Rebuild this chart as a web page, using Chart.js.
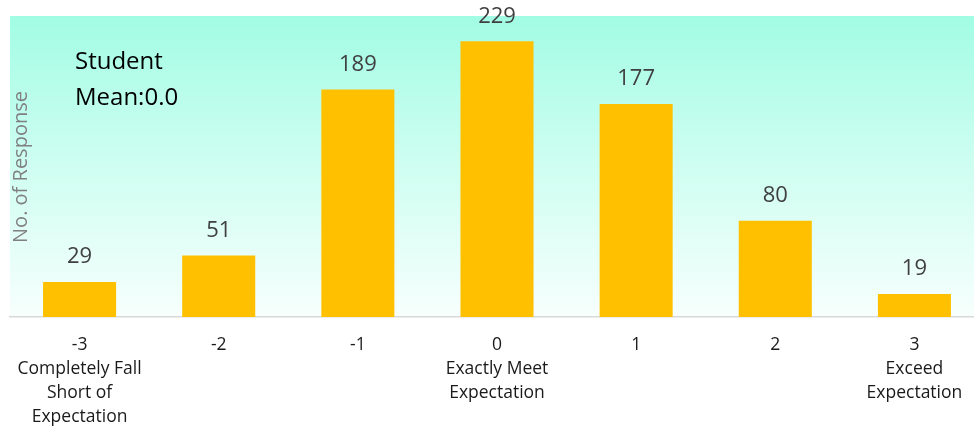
<!DOCTYPE html>
<html>
<head>
<meta charset="utf-8">
<script src="https://cdn.jsdelivr.net/npm/chart.js"></script>
<style>
  html, body { margin: 0; padding: 0; background: #fff; overflow: hidden; }
  /* plot runs a little past the right edge of the window */
  #wrap { width: 984px; height: 429px; }
</style>
</head>
<body>
<div id="wrap"><canvas id="responseChart"></canvas></div>
<script>
// Rating scale and response counts
const scores = ['-3', '-2', '-1', '0', '1', '2', '3'];
const scoreNotes = [['Completely Fall', 'Short of', 'Expectation'], [], [], ['Exactly Meet', 'Expectation'], [], [], ['Exceed', 'Expectation']];
const responses = [29, 51, 189, 229, 177, 80, 19];
const meanText = ['Student', 'Mean:0.0'];
const yTitle = 'No. of Response';

const FONT = '"Open Sans", Lato, sans-serif';

// Mint fade behind the plot
const bgGradient = {
    id: 'bgGradient',
    beforeDraw(chart) {
        const { ctx, chartArea: a } = chart;
        const g = ctx.createLinearGradient(0, a.top, 0, a.bottom);
        g.addColorStop(0, '#a2fce4');
        g.addColorStop(0.5, '#cffef1');
        g.addColorStop(1, '#f7fffd');
        ctx.save();
        ctx.fillStyle = g;
        ctx.fillRect(a.left, a.top, a.right - a.left, a.bottom - a.top);
        ctx.restore();
    }
};

// Value labels, axis title and the mean note
const annotations = {
    id: 'annotations',
    afterDatasetsDraw(chart) {
        const { ctx, chartArea: a } = chart;
        const meta = chart.getDatasetMeta(0);
        ctx.save();
        ctx.font = '22px ' + FONT;
        ctx.fillStyle = '#404040';
        ctx.textAlign = 'center';
        ctx.textBaseline = 'middle';
        meta.data.forEach((bar, i) => {
            ctx.fillText(String(responses[i]), bar.x, bar.y - 25);
        });

        // rotated y title
        ctx.fillStyle = '#808080';
        ctx.font = '20px ' + FONT;
        ctx.translate(a.left + 11, 167);
        ctx.rotate(-Math.PI / 2);
        ctx.fillText(yTitle, 0, 0);
        ctx.setTransform(1, 0, 0, 1, 0, 0);

        ctx.fillStyle = '#000';
        ctx.font = '24px ' + FONT;
        ctx.textAlign = 'left';
        meanText.forEach((t, i) => ctx.fillText(t, 75, 62 + i * 36));
        ctx.restore();
    }
};

new Chart(document.getElementById('responseChart'), {
    type: 'bar',
    data: {
        labels: scores.map((s, i) => [s].concat(scoreNotes[i])),
        datasets: [{
            data: responses,
            backgroundColor: '#ffc000',
            barPercentage: 0.525,
            categoryPercentage: 1
        }]
    },
    options: {
        responsive: true,
        maintainAspectRatio: false,
        animation: false,
        layout: { padding: { top: 16, left: 10, right: 0, bottom: 0 } },
        plugins: { legend: { display: false }, tooltip: { enabled: false } },
        scales: {
            y: { display: false, min: 0, max: 250 },
            x: {
                grid: { display: false, drawTicks: false },
                border: { display: true, color: '#d9d9d9', width: 1.5 },
                ticks: {
                    color: '#1a1a1a',
                    font: { family: FONT, size: 17.5, lineHeight: 1.37 },
                    padding: 16,
                    maxRotation: 0,
                    autoSkip: false
                },
                afterFit(scale) { scale.height = 112; }
            }
        }
    },
    plugins: [bgGradient, annotations]
});
</script>
</body>
</html>
